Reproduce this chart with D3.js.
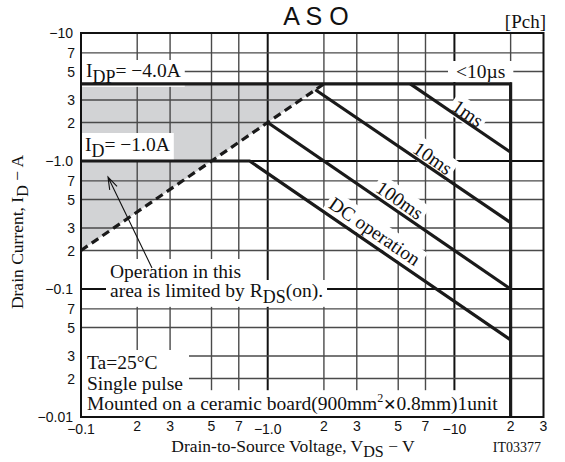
<!DOCTYPE html>
<html><head><meta charset="utf-8">
<script src="https://cdn.jsdelivr.net/npm/d3@7/dist/d3.min.js"></script>
<style>body{margin:0;background:#fff}svg{display:block}</style>
</head><body><svg id="c" width="565" height="462"></svg>
<script>
// ---- data ----
const xDomain = [0.1, 30];
const yDomain = [0.01, 10];
const xTickValues = [0.1, 0.2, 0.3, 0.5, 0.7, 1, 2, 3, 5, 7, 10, 20, 30];
const xTickLabels = ["−0.1", "2", "3", "5", "7", "−1.0", "2", "3", "5", "7", "−10", "2", "3"];
const yTickValues = [10, 7, 5, 3, 2, 1, 0.7, 0.5, 0.3, 0.2, 0.1, 0.07, 0.05, 0.03, 0.02, 0.01];
const yTickLabels = ["−10", "7", "5", "3", "2", "−1.0", "7", "5", "3", "2", "−0.1", "7", "5", "3", "2", "−0.01"];
const xGrid = [0.2, 0.3, 0.5, 0.7, 1, 2, 3, 5, 7, 10, 20];
const yGrid = [7, 5, 3, 2, 1, 0.7, 0.5, 0.3, 0.2, 0.1, 0.07, 0.05, 0.03, 0.02];
const idpLimit = [[0.1, 4], [20, 4], [20, 0.01]];
const dcLine = [[0.1, 1], [0.8, 1], [20, 0.04]];
const ms100 = [[1, 2], [20, 0.1]];
const ms10 = [[1.8, 3.6], [20, 0.33]];
const ms1 = [[5.8, 4], [20, 1.17]];
const rdsLimit = [[0.1, 0.2], [2, 4]];
const shadedArea = [[0.1, 0.2], [0.1, 4], [2, 4]];

// ---- drawing ----
const svg = d3.select("#c");
const x = d3.scaleLog().domain(xDomain).range([81, 543.5]);
const y = d3.scaleLog().domain(yDomain).range([417, 33]);
const serif = "'Liberation Serif','Times New Roman',serif";
const sans = "'Liberation Sans',Arial,sans-serif";
const line = d3.line().x(d => x(d[0])).y(d => y(d[1]));
const AS = 19.5; // annotation font size

// shaded region
svg.append("path").attr("d", line(shadedArea) + "Z").attr("fill", "#d2d3d5");

// grid
const isDec = v => Math.abs(Math.log10(v) - Math.round(Math.log10(v))) < 1e-9;
svg.append("g").selectAll("line").data(xGrid).join("line")
  .attr("x1", d => x(d)).attr("x2", d => x(d)).attr("y1", y(10)).attr("y2", y(0.01))
  .attr("stroke", d => isDec(d) ? "#111" : "#4a4a4a").attr("stroke-width", d => isDec(d) ? 2 : 1.4);
svg.append("g").selectAll("line").data(yGrid).join("line")
  .attr("y1", d => y(d)).attr("y2", d => y(d)).attr("x1", x(0.1)).attr("x2", x(30))
  .attr("stroke", d => isDec(d) ? "#111" : "#4a4a4a").attr("stroke-width", d => isDec(d) ? 2 : 1.4);

const bgLayer = svg.append("g");
const curves = svg.append("g").attr("fill", "none").attr("stroke", "#1a1a1a").attr("stroke-width", 3.2);
const frame = svg.append("g");
const txtLayer = svg.append("g");

// white-backed labels
function addLabel(px, py, parts, o = {}) {
  const tr = `translate(${px},${py})` + (o.rot ? ` rotate(${o.rot})` : "");
  const gb = bgLayer.append("g").attr("transform", tr);
  const g = txtLayer.append("g").attr("transform", tr);
  const fs = o.size || AS;
  const t = g.append("text").attr("font-family", o.font || serif).attr("font-size", fs)
    .attr("text-anchor", o.anchor || "start").attr("fill", "#111");
  if (o.central) t.attr("dominant-baseline", "central");
  let shift = 0;
  parts.forEach(p => {
    const s = t.append("tspan").text(p.t);
    let target = 0;
    if (p.sub) { target = fs * 0.3; s.attr("font-size", fs * 0.92); }
    if (p.sup) { target = -fs * 0.4; s.attr("font-size", fs * 0.62); }
    if (p.f) s.attr("font-family", p.f).attr("font-weight", "bold").attr("font-size", fs * 0.8);
    if (target !== shift) { s.attr("dy", target - shift); shift = target; }
  });
  if (o.bg !== false) {
    const b = t.node().getBBox();
    const pad = o.pad || [3, 1];
    const w = Math.max(b.width + 2 * pad[0], o.minW || 0);
    gb.append("rect").attr("fill", "#fff").attr("x", b.x - pad[0]).attr("y", b.y - pad[1])
      .attr("width", w).attr("height", b.height + 2 * pad[1]);
  }
  return g;
}

// curves
[idpLimit, dcLine, ms100, ms10, ms1].forEach(s => curves.append("path").attr("d", line(s)));
curves.append("path").attr("d", line(rdsLimit)).attr("stroke-dasharray", "8,5");

// frame
frame.append("rect").attr("x", x(0.1)).attr("y", y(10)).attr("width", x(30) - x(0.1)).attr("height", y(0.01) - y(10))
  .attr("fill", "none").attr("stroke", "#111").attr("stroke-width", 2);

// annotations
const ang = Math.atan2(y(0.1) - y(1), x(10) - x(1)) * 180 / Math.PI;
addLabel(86, 77, [{t: "I"}, {t: "DP", sub: true}, {t: "= −4.0A"}], {pad: [4, 0]});
addLabel(456, 78, [{t: "<10µs"}], {pad: [8, 0]});
addLabel(85, 151, [{t: "I"}, {t: "D", sub: true}, {t: "= −1.0A"}], {pad: [4, 1]});
addLabel(468, 113, [{t: "1ms"}], {rot: ang, anchor: "middle", central: true, pad: [3, 1]});
addLabel(433, 158, [{t: "10ms"}], {rot: ang, anchor: "middle", central: true, pad: [3, 1]});
addLabel(400, 200, [{t: "100ms"}], {rot: ang, anchor: "middle", central: true, pad: [3, 1]});
addLabel(375, 231, [{t: "DC operation"}], {rot: ang, anchor: "middle", central: true, pad: [3, 1]});
addLabel(110, 278, [{t: "Operation in this"}], {pad: [4, 2], minW: 160});
addLabel(110, 297, [{t: "area is limited by R"}, {t: "DS", sub: true}, {t: "(on)."}], {pad: [4, 0]});
addLabel(87, 369, [{t: "Ta=25°C"}], {pad: [6, 2], minW: 108});
addLabel(87, 390, [{t: "Single pulse"}], {pad: [6, 1], minW: 108});
addLabel(87, 410, [{t: "Mounted on a ceramic board(900mm"}, {t: "2", sup: true}, {t: "✕", f: "'DejaVu Sans',sans-serif"}, {t: "0.8mm)1unit"}], {pad: [6, 1]});

// arrow
const a0 = [152, 268], a1 = [108, 177];
const th = Math.atan2(a0[1] - a1[1], a0[0] - a1[0]);
const hl = 13, ha = 0.32;
txtLayer.append("path").attr("fill", "none").attr("stroke", "#111").attr("stroke-width", 1.1)
  .attr("d", `M${a0}L${a1}M${a1[0] + hl * Math.cos(th + ha)},${a1[1] + hl * Math.sin(th + ha)}L${a1}L${a1[0] + hl * Math.cos(th - ha)},${a1[1] + hl * Math.sin(th - ha)}`);

// tick labels
svg.append("g").selectAll("text").data(yTickValues).join("text")
  .attr("x", d => isDec(d) ? 73 : 75).attr("y", d => y(d)).attr("dy", "0.36em")
  .attr("text-anchor", "end").attr("font-family", sans).attr("font-size", 14).attr("fill", "#111")
  .text((d, i) => yTickLabels[i]);
svg.append("g").selectAll("text").data(xTickValues).join("text")
  .attr("x", d => x(d)).attr("y", d => isDec(d) ? 434 : 431)
  .attr("text-anchor", "middle").attr("font-family", sans).attr("font-size", 14).attr("fill", "#111")
  .text((d, i) => xTickLabels[i]);

// titles
svg.append("text").attr("x", 316).attr("y", 25).attr("text-anchor", "middle").attr("font-family", sans)
  .attr("font-size", 25).attr("fill", "#111").text("A S O");
svg.append("text").attr("x", 546).attr("y", 28).attr("text-anchor", "end").attr("font-family", serif)
  .attr("font-size", 19).attr("fill", "#111").text("[Pch]");
addLabel(293, 452, [{t: "Drain-to-Source Voltage, V"}, {t: "DS", sub: true}, {t: "  −  V"}], {anchor: "middle", bg: false, size: 17.5});
addLabel(23, 232, [{t: "Drain Current, I"}, {t: "D", sub: true}, {t: "  −  A"}], {anchor: "middle", rot: -90, bg: false, size: 17.5});
svg.append("text").attr("x", 541).attr("y", 452).attr("text-anchor", "end").attr("font-family", serif)
  .attr("font-size", 14).attr("fill", "#111").text("IT03377");
</script></body></html>
